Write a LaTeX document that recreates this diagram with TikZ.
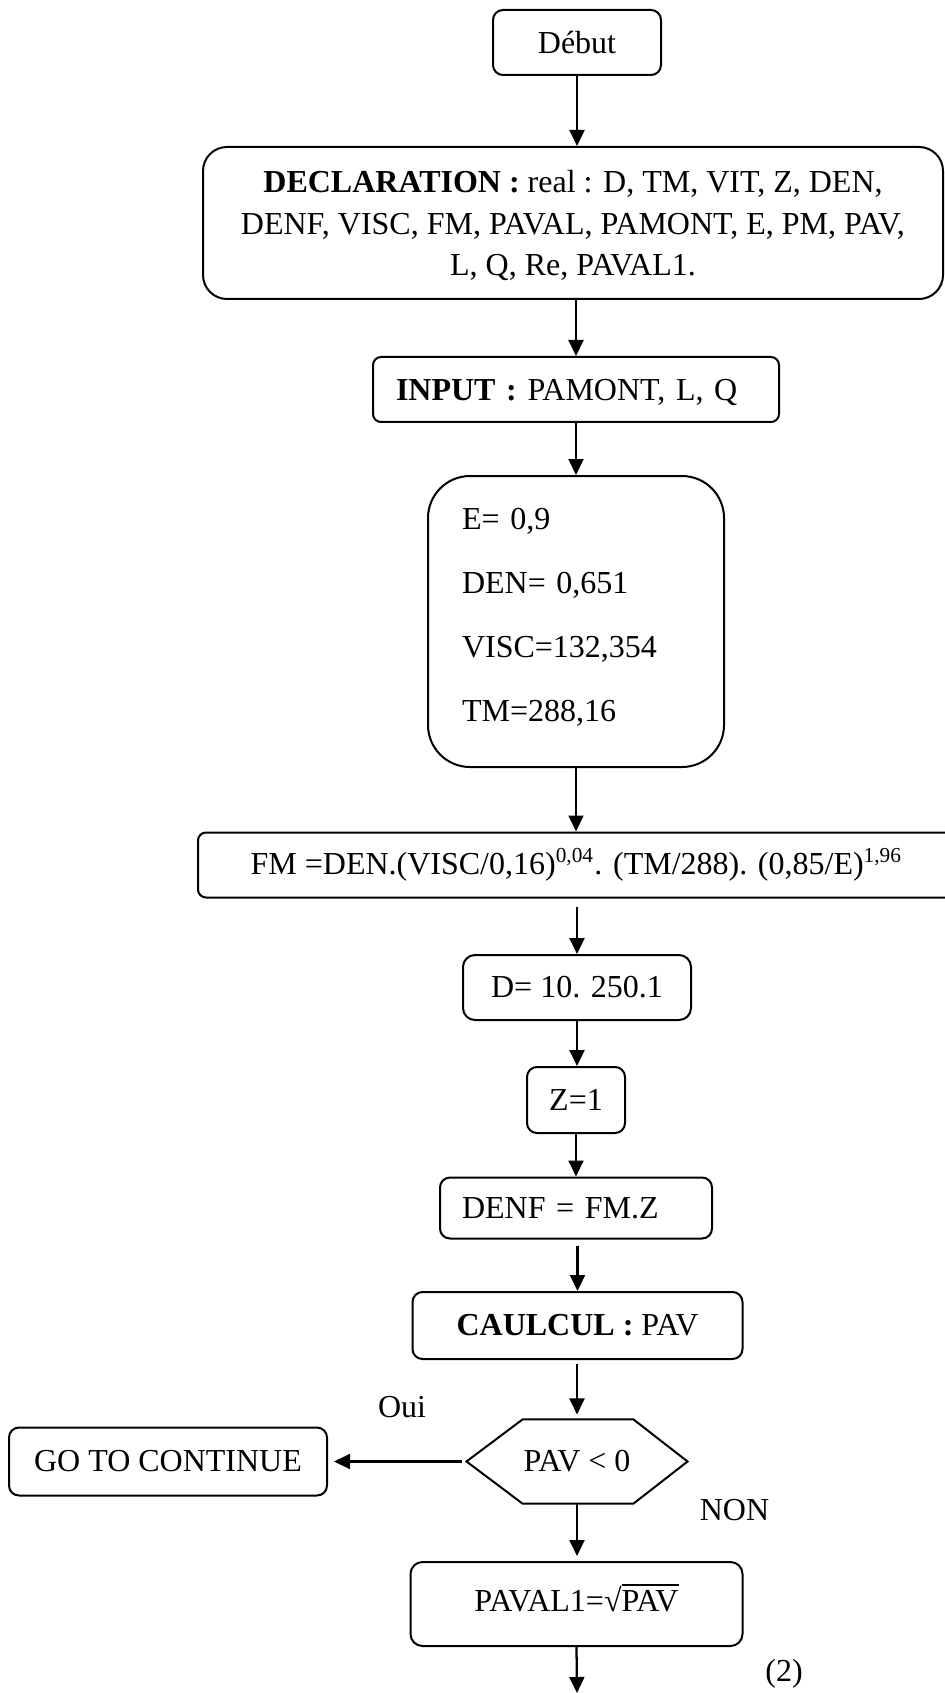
\documentclass[tikz,border=0pt]{standalone}
\usepackage{fontspec}
\setmainfont{Liberation Serif}
\usetikzlibrary{arrows.meta}
\newdimen\pxu \pxu=0.375pt
\newcommand\sqrtbar[1]{\setbox0\hbox{#1}√\rlap{\rule[0.81em]{\wd0}{0.065em}}\box0}
\begin{document}
\begin{tikzpicture}[x=0.375pt, y=-0.375pt,
  every node/.style={font=\fontsize{12}{14.4}\selectfont},
  box/.style={draw, line width=0.75pt, inner sep=0pt, align=center},
  arr/.style={-{Triangle[length=6pt,width=5.6pt]}, line width=0.85pt},
  lbl/.style={anchor=base, inner sep=0pt}]
\path[use as bounding box] (0,0) rectangle (944,1693);

\node[box, minimum width=168\pxu, minimum height=65\pxu, rounded corners=10\pxu] (deb) at (577,42.5) {Début};

\node[box, minimum width=740\pxu, minimum height=152\pxu, rounded corners=24\pxu, text depth=0pt,
  font=\fontsize{12}{15.56}\selectfont] (decl) at (573,223)
  {\textbf{DECLARATION :} real : D, TM, VIT, Z, DEN,\\
   DENF, VISC, FM, PAVAL, PAMONT, E, PM, PAV,\\
   L, Q, Re, PAVAL1.};

\node[box, align=left, text width=360\pxu, inner xsep=23\pxu, minimum height=65\pxu, text depth=0pt,
  rounded corners=8\pxu] (inp) at (576,389.5) {\textbf{INPUT :} PAMONT, L, Q};

\node[box, align=left, text width=228\pxu, inner xsep=34\pxu, minimum height=291\pxu,
  text height=22\pxu, text depth=206\pxu,
  rounded corners=42\pxu, font=\fontsize{12}{24}\selectfont] (ebox) at (576,621.5)
  {E= 0,9\\ DEN= 0,651\\ VISC=132,354\\ TM=288,16};

\node[box, minimum width=757\pxu, minimum height=65\pxu, rounded corners=8\pxu] (fm) at (576.5,865)
  {FM =DEN.(VISC/0,16)\textsuperscript{0,04}. (TM/288). (0,85/E)\textsuperscript{1,96}};

\node[box, minimum width=228\pxu, minimum height=65\pxu, rounded corners=12\pxu] (dd) at (577,987.5) {D= 10. 250.1};

\node[box, minimum width=98\pxu, minimum height=66\pxu, rounded corners=10\pxu] (z) at (576,1100) {Z=1};

\node[box, align=left, text width=228\pxu, inner xsep=22\pxu, minimum height=61\pxu,
  rounded corners=10\pxu] (denf) at (576,1208) {DENF = FM.Z};

\node[box, minimum width=330\pxu, minimum height=67\pxu, rounded corners=10\pxu] (cal) at (577.5,1325.5) {\textbf{CAULCUL :} PAV};

\node[inner sep=0pt, minimum width=220\pxu, minimum height=83\pxu] (dec) at (577,1461.5) {PAV < 0};
\draw[line width=0.75pt] (dec.west) -- ([xshift=56\pxu]dec.north west) -- ([xshift=-54\pxu]dec.north east)
  -- (dec.east) -- ([xshift=-54\pxu]dec.south east) -- ([xshift=56\pxu]dec.south west) -- cycle;

\node[box, minimum width=318\pxu, minimum height=68\pxu, rounded corners=10\pxu] (go) at (168,1461.5) {GO TO CONTINUE};

\node[box, minimum width=332\pxu, minimum height=84\pxu, rounded corners=12\pxu, text depth=13\pxu] (pav1) at (576.5,1604) {PAVAL1=\sqrtbar{PAV}};

\coordinate (endp) at (577,1693);

\node[lbl] (oui) at (402,1417) {Oui};
\node[lbl] (non) at (734.5,1520) {NON};
\node[lbl] (two) at (784,1681) {(2)};

\draw[arr] (deb.south) -- (deb.south |- decl.north);
\draw[arr] (inp.north |- decl.south) -- (inp.north);
\draw[arr] (inp.south) -- (inp.south |- ebox.north);
\draw[arr] (ebox.south) -- (ebox.south |- fm.north);
\draw[arr, shorten <=8\pxu] (dd.north |- fm.south) -- (dd.north);
\draw[arr] (dd.south) -- (dd.south |- z.north);
\draw[arr] (z.south) -- (z.south |- denf.north);
\draw[arr, shorten <=6\pxu] (cal.north |- denf.south) -- (cal.north);
\draw[arr, shorten <=4\pxu, shorten >=5\pxu] (dec.north |- cal.south) -- (dec.north);
\draw[arr, shorten >=5\pxu] (dec.south) -- (dec.south |- pav1.north);
\draw[arr, shorten <=4\pxu, shorten >=6\pxu] (dec.west) -- (go.east);
\draw[arr] (pav1.south) -- (endp);
\end{tikzpicture}
\end{document}
